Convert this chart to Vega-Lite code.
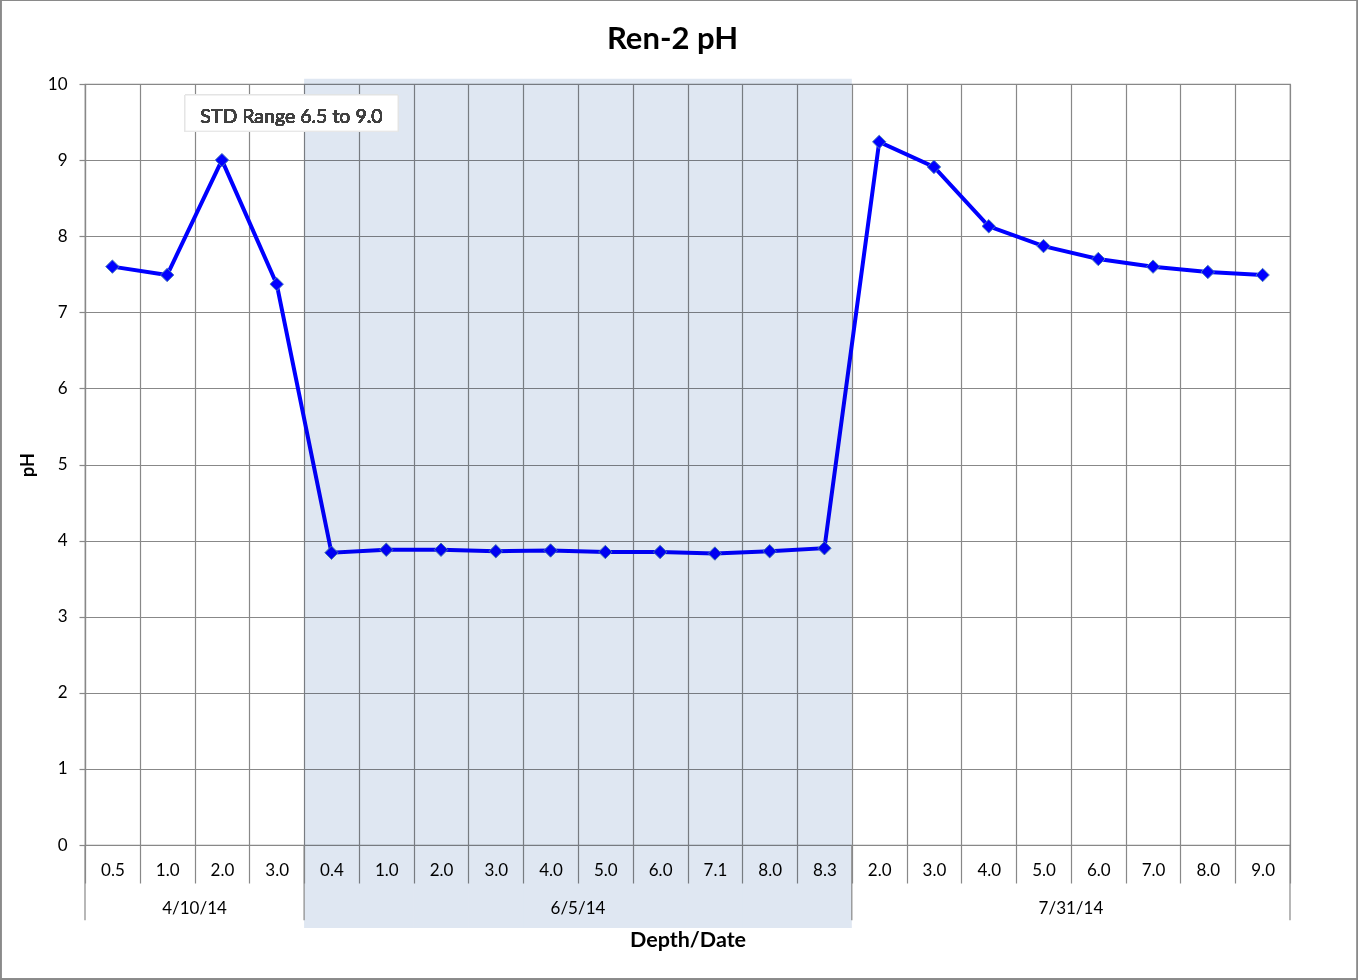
{
  "$schema": "https://vega.github.io/schema/vega-lite/v6.json",
  "width": 1205,
  "height": 761,
  "autosize": {"type": "none"},
  "padding": {"left": 85, "top": 84, "right": 68, "bottom": 135},
  "background": "white",
  "title": {"text": "Ren-2 pH", "fontSize": 31, "fontWeight": "bold", "font": "Lato", "color": "#000000", "anchor": "middle", "frame": "group", "dx": -15, "offset": 0, "dy": 56},
  "config": {
    "font": "Lato",
    "view": {"stroke": "#888888", "strokeWidth": 1.2},
    "axis": {"gridColor": "#888888", "gridWidth": 1.2, "gridOpacity": 1, "domainColor": "#888888", "domainWidth": 1.2, "tickColor": "#888888", "tickWidth": 1.2, "labelColor": "#000000", "labelFont": "Lato", "labelFontSize": 17, "titleFont": "Lato", "titleFontSize": 21.5, "titleFontWeight": "bold", "titleColor": "#000000"}
  },
  "data": {
    "values": [
      {"cat": "4/10/14 0.5", "date": "4/10/14", "depth": "0.5", "pH": 7.60},
      {"cat": "4/10/14 1.0", "date": "4/10/14", "depth": "1.0", "pH": 7.49},
      {"cat": "4/10/14 2.0", "date": "4/10/14", "depth": "2.0", "pH": 9.00},
      {"cat": "4/10/14 3.0", "date": "4/10/14", "depth": "3.0", "pH": 7.37},
      {"cat": "6/5/14 0.4", "date": "6/5/14", "depth": "0.4", "pH": 3.84},
      {"cat": "6/5/14 1.0", "date": "6/5/14", "depth": "1.0", "pH": 3.88},
      {"cat": "6/5/14 2.0", "date": "6/5/14", "depth": "2.0", "pH": 3.88},
      {"cat": "6/5/14 3.0", "date": "6/5/14", "depth": "3.0", "pH": 3.86},
      {"cat": "6/5/14 4.0", "date": "6/5/14", "depth": "4.0", "pH": 3.87},
      {"cat": "6/5/14 5.0", "date": "6/5/14", "depth": "5.0", "pH": 3.85},
      {"cat": "6/5/14 6.0", "date": "6/5/14", "depth": "6.0", "pH": 3.85},
      {"cat": "6/5/14 7.1", "date": "6/5/14", "depth": "7.1", "pH": 3.83},
      {"cat": "6/5/14 8.0", "date": "6/5/14", "depth": "8.0", "pH": 3.86},
      {"cat": "6/5/14 8.3", "date": "6/5/14", "depth": "8.3", "pH": 3.90},
      {"cat": "7/31/14 2.0", "date": "7/31/14", "depth": "2.0", "pH": 9.24},
      {"cat": "7/31/14 3.0", "date": "7/31/14", "depth": "3.0", "pH": 8.91},
      {"cat": "7/31/14 4.0", "date": "7/31/14", "depth": "4.0", "pH": 8.13},
      {"cat": "7/31/14 5.0", "date": "7/31/14", "depth": "5.0", "pH": 7.87},
      {"cat": "7/31/14 6.0", "date": "7/31/14", "depth": "6.0", "pH": 7.70},
      {"cat": "7/31/14 7.0", "date": "7/31/14", "depth": "7.0", "pH": 7.60},
      {"cat": "7/31/14 8.0", "date": "7/31/14", "depth": "8.0", "pH": 7.53},
      {"cat": "7/31/14 9.0", "date": "7/31/14", "depth": "9.0", "pH": 7.49}
    ]
  },
  "encoding": {
    "x": {
      "field": "cat", "type": "nominal", "sort": null,
      "scale": {"paddingInner": 0, "paddingOuter": 0},
      "axis": {"title": "Depth/Date", "titlePadding": 46, "labelAngle": 0, "labelExpr": "split(datum.value, ' ')[1]", "tickBand": "extent", "tickSize": 38, "labelPadding": -13, "labelBaseline": "middle", "grid": true}
    },
    "y": {
      "field": "pH", "type": "quantitative",
      "scale": {"domain": [0, 10], "nice": false, "zero": true},
      "axis": {"title": "pH", "values": [0,1,2,3,4,5,6,7,8,9,10], "labelOverlap": false, "tickSize": 6, "labelPadding": 12, "titlePadding": 10, "titleFontSize": 18, "grid": true}
    }
  },
  "layer": [
    {"mark": {"type": "line", "color": "#0000ff", "strokeWidth": 4}},
    {"mark": {"type": "point", "shape": "diamond", "filled": true, "fill": "#0000ff", "stroke": "#4a7ebb", "strokeWidth": 1, "size": 180, "opacity": 1}},
    {
      "transform": [{"filter": "datum.date == '6/5/14'"}],
      "mark": {"type": "rect", "color": "#dfe7f2", "blend": "multiply"},
      "encoding": {"y": {"datum": 10.07}, "y2": {"datum": -1.09}}
    },
    {
      "transform": [{"filter": "indexof(['4/10/14 0.5', '6/5/14 0.4', '7/31/14 2.0'], datum.cat) >= 0"}],
      "mark": {"type": "rule", "color": "#888888", "strokeWidth": 1.2},
      "encoding": {"x": {"field": "cat", "type": "nominal", "sort": null, "bandPosition": 0}, "y": {"datum": 0}, "y2": {"datum": -0.99}}
    },
    {
      "transform": [{"filter": "datum.cat == '7/31/14 9.0'"}],
      "mark": {"type": "rule", "color": "#888888", "strokeWidth": 1.2},
      "encoding": {"x": {"field": "cat", "type": "nominal", "sort": null, "bandPosition": 1}, "y": {"datum": 0}, "y2": {"datum": -0.99}}
    },
    {
      "transform": [{"filter": "indexof(['4/10/14 2.0', '6/5/14 5.0', '7/31/14 6.0'], datum.cat) >= 0"}],
      "mark": {"type": "text", "fontSize": 17, "color": "#000000", "baseline": "middle", "align": "center"},
      "encoding": {"x": {"field": "cat", "type": "nominal", "sort": null, "bandPosition": 0}, "y": {"datum": -0.84}, "text": {"field": "date"}}
    },
    {
      "mark": {"type": "rect", "fill": "#ffffff", "stroke": "#e4e4e4", "strokeWidth": 1},
      "encoding": {
        "x": {"datum": "4/10/14 1.0", "bandPosition": 0.826},
        "x2": {"datum": "6/5/14 1.0", "bandPosition": 0.715},
        "y": {"datum": 9.855},
        "y2": {"datum": 9.38}
      }
    },
    {
      "mark": {"type": "text", "fontSize": 19.5, "color": "#404040", "baseline": "middle", "align": "center", "text": "STD Range 6.5 to 9.0"},
      "encoding": {
        "x": {"datum": "4/10/14 3.0", "bandPosition": 0.77},
        "y": {"datum": 9.566}
      }
    },
    {
      "mark": {"type": "rect", "fill": null, "stroke": "#8a8a8a", "strokeWidth": 1.2},
      "encoding": {
        "x": {"datum": "4/10/14 0.5", "bandPosition": -1.5427},
        "x2": {"datum": "7/31/14 9.0", "bandPosition": 2.233},
        "y": {"datum": 11.097},
        "y2": {"datum": -1.767}
      }
    }
  ]
}
